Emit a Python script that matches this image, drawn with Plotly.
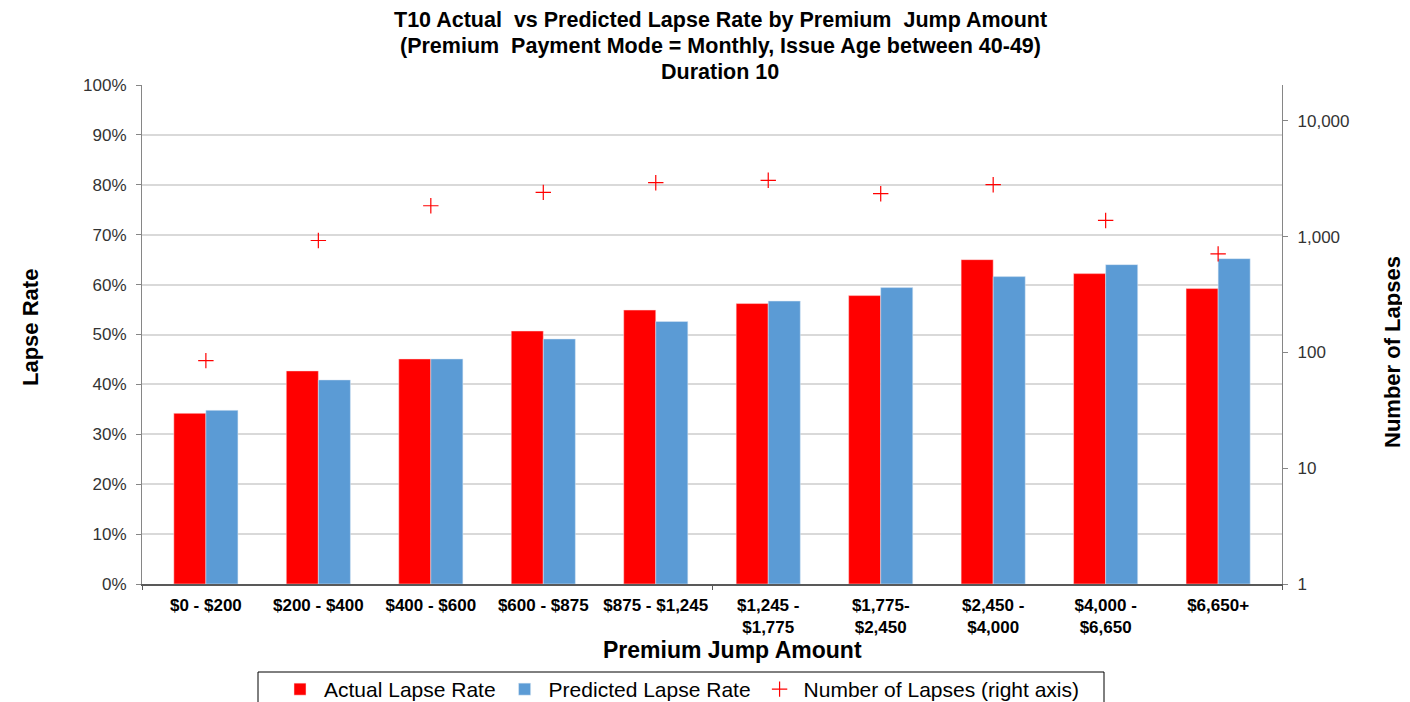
import plotly.graph_objects as go

categories = ["$0 - $200", "$200 - $400", "$400 - $600", "$600 - $875", "$875 - $1,245",
              "$1,245 -<br>$1,775", "$1,775-<br>$2,450", "$2,450 -<br>$4,000",
              "$4,000 -<br>$6,650", "$6,650+"]
actual_rate = [0.342, 0.427, 0.451, 0.507, 0.549, 0.562, 0.578, 0.650, 0.622, 0.592]
predicted_rate = [0.348, 0.409, 0.451, 0.491, 0.526, 0.567, 0.594, 0.616, 0.640, 0.652]
num_lapses = [85, 927, 1849, 2415, 2925, 3069, 2350, 2812, 1381, 710]

left_ticks = [0, 0.1, 0.2, 0.3, 0.4, 0.5, 0.6, 0.7, 0.8, 0.9, 1.0]
right_ticks = [1, 10, 100, 1000, 10000]
title_lines = ["T10 Actual  vs Predicted Lapse Rate by Premium  Jump Amount",
               "(Premium  Payment Mode = Monthly, Issue Age between 40-49)",
               "Duration 10"]

FONT = "Arial, Liberation Sans, sans-serif"
OFF = 8  # page body margin in the browser
W, H = 1410 - OFF, 702 - OFF
L, T = 142 - OFF, 85 - OFF
R, B = 1410 - 1282, 702 - 584
PW, PH = W - L - R, H - T - B


def px_x(px):
    return (px - OFF - L) / PW


def px_y(py):
    return (H - B - (py - OFF)) / PH


fig = go.Figure()
fig.add_trace(go.Bar(x=categories, y=actual_rate, name="Actual Lapse Rate",
                     marker=dict(color="#FF0000", line=dict(width=0.5, color="#ffe0e0"))))
fig.add_trace(go.Bar(x=categories, y=predicted_rate, name="Predicted Lapse Rate",
                     marker=dict(color="#5B9BD5", line=dict(width=0.5, color="#dce9f5"))))
fig.add_trace(go.Scatter(x=categories, y=num_lapses, name="Number of Lapses (right axis)",
                         mode="markers", yaxis="y2",
                         marker=dict(symbol="cross-thin", size=11, color="#FF0000",
                                     line=dict(width=1.2, color="#FF0000"))))
# helper trace for the boundary tick axis (invisible)
fig.add_trace(go.Scatter(x=[-0.5, 9.5], y=[0, 0], xaxis="x3", mode="markers",
                         marker=dict(opacity=0), showlegend=False, hoverinfo="skip"))

annotations = []
for txt, py in zip(title_lines, [20, 46, 72]):
    annotations.append(dict(text="<b>" + txt + "</b>", xref="paper", yref="paper",
                            x=px_x(720), y=px_y(py), xanchor="center", yanchor="middle",
                            showarrow=False, font=dict(size=21.5, family=FONT, color="#000000")))
annotations.append(dict(text="<b>Lapse Rate</b>", xref="paper", yref="paper",
                        x=px_x(30), y=px_y(328), xanchor="center", yanchor="middle",
                        textangle=-90, showarrow=False,
                        font=dict(size=22, family=FONT, color="#000000")))
annotations.append(dict(text="<b>Number of Lapses</b>", xref="paper", yref="paper",
                        x=px_x(1392), y=px_y(352), xanchor="center", yanchor="middle",
                        textangle=-90, showarrow=False,
                        font=dict(size=22, family=FONT, color="#000000")))
annotations.append(dict(text="<b>Premium Jump Amount</b>", xref="paper", yref="paper",
                        x=px_x(732), y=px_y(650), xanchor="center", yanchor="middle",
                        showarrow=False, font=dict(size=23, family=FONT, color="#000000")))

shapes = [dict(type="rect", xref="paper", yref="paper",
               x0=px_x(258), x1=px_x(1104), y0=px_y(672), y1=px_y(712),
               line=dict(color="#000000", width=1), fillcolor="rgba(0,0,0,0)", layer="above")]

fig.update_layout(
    width=W, height=H,
    paper_bgcolor="white", plot_bgcolor="white",
    margin=dict(l=L, r=R, t=T, b=B, autoexpand=False),
    font=dict(family=FONT, color="#000000"),
    annotations=annotations, shapes=shapes,
    barmode="group", bargap=0.43, bargroupgap=0,
    xaxis=dict(type="category", automargin=False,
               tickfont=dict(size=17, family=FONT, color="#000000", weight="bold"),
               ticks="", ticklabelstandoff=5,
               showline=True, linecolor="#595959", linewidth=1.5,
               showgrid=False),
    xaxis3=dict(overlaying="x", range=[-0.5, 9.5], tickvals=[-0.5, 4.5, 9.5], automargin=False,
                showticklabels=False, ticks="outside", ticklen=5, tickcolor="#595959",
                showgrid=False, showline=False, zeroline=False, side="bottom"),
    yaxis=dict(range=[0, 1.0], tickvals=left_ticks, tickformat=".0%", automargin=False,
               tickfont=dict(size=17, family=FONT, color="#333333"),
               ticks="outside", ticklen=5, tickcolor="#868686", ticklabelstandoff=6,
               showline=True, linecolor="#868686", linewidth=1.2,
               gridcolor="#D9D9D9", gridwidth=1.5, zeroline=False),
    yaxis2=dict(overlaying="y", side="right", type="log", range=[0, 4.31], automargin=False,
                tickvals=right_ticks, tickformat=",",
                tickfont=dict(size=17, family=FONT, color="#333333"),
                ticks="outside", ticklen=5, tickcolor="#868686", ticklabelstandoff=6,
                showline=True, linecolor="#868686", linewidth=1.2, showgrid=False),
    legend=dict(orientation="h", x=px_x(276), xanchor="left", y=px_y(669), yanchor="top",
                borderwidth=0, bgcolor="rgba(0,0,0,0)",
                font=dict(size=21, family=FONT, color="#000000"),
                itemwidth=38),
    showlegend=True,
)

fig.write_html("out.html")
